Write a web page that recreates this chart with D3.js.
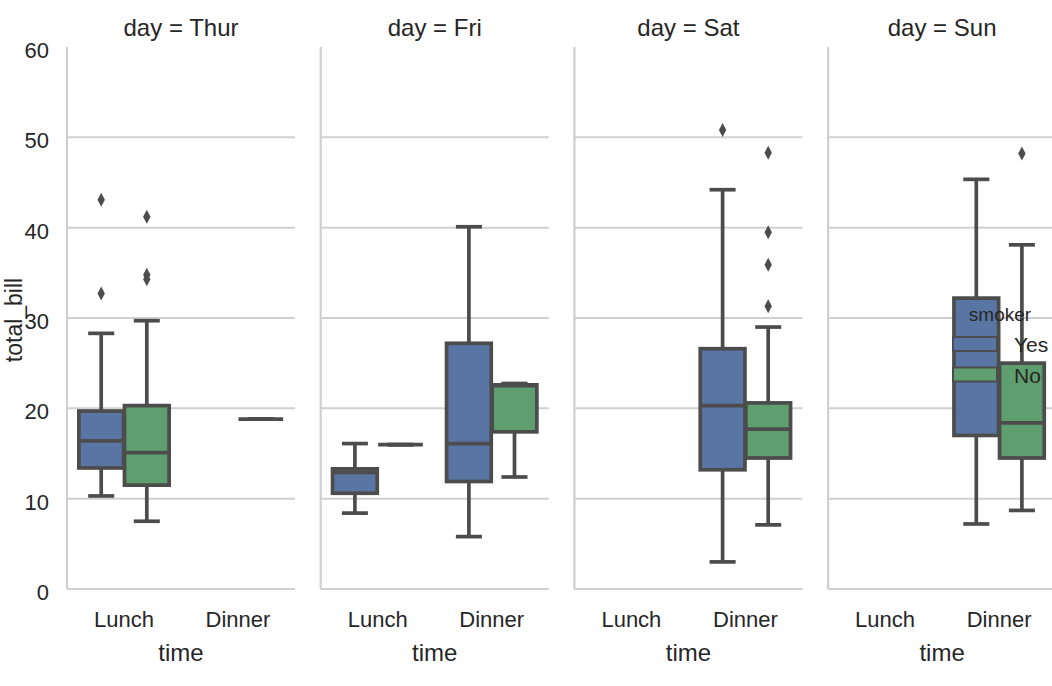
<!DOCTYPE html>
<html>
<head>
<meta charset="utf-8">
<script src="https://cdn.jsdelivr.net/npm/d3@7"></script>
<style>
  html, body { margin: 0; padding: 0; background: #ffffff; }
  svg { display: block; }
  text { font-family: "Liberation Sans", Arial, Helvetica, sans-serif; fill: #262626; }
</style>
</head>
<body>
<svg id="chart" width="1052" height="686"></svg>
<script>
// ---------------- data ----------------
const days = ["Thur", "Fri", "Sat", "Sun"];
const times = ["Lunch", "Dinner"];
const smokers = ["Yes", "No"];
const yTicks = [0, 10, 20, 30, 40, 50, 60];

// day, time, smoker, whisker low, Q1, median, Q3, whisker high
const boxStats = [
  ["Thur", "Lunch",  "Yes", 10.3, 13.4, 16.4, 19.7, 28.3],
  ["Thur", "Lunch",  "No",   7.5, 11.5, 15.1, 20.3, 29.7],
  ["Thur", "Dinner", "No",  18.8, 18.8, 18.8, 18.8, 18.8],
  ["Fri",  "Lunch",  "Yes",  8.4, 10.6, 12.9, 13.3, 16.1],
  ["Fri",  "Lunch",  "No",  15.98, 15.98, 15.98, 15.98, 15.98],
  ["Fri",  "Dinner", "Yes",  5.8, 11.9, 16.1, 27.2, 40.1],
  ["Fri",  "Dinner", "No",  12.4, 17.4, 22.5, 22.6, 22.75],
  ["Sat",  "Dinner", "Yes",  3.0, 13.2, 20.3, 26.6, 44.2],
  ["Sat",  "Dinner", "No",   7.1, 14.5, 17.7, 20.6, 29.0],
  ["Sun",  "Dinner", "Yes",  7.2, 17.0, 23.6, 32.2, 45.35],
  ["Sun",  "Dinner", "No",   8.7, 14.5, 18.4, 25.0, 38.1]
];

// day, time, smoker, outlier values
const fliers = [
  ["Thur", "Lunch",  "Yes", [43.1, 32.7]],
  ["Thur", "Lunch",  "No",  [41.2, 34.8, 34.3]],
  ["Sat",  "Dinner", "Yes", [50.8]],
  ["Sat",  "Dinner", "No",  [48.3, 39.5, 35.9, 31.3]],
  ["Sun",  "Dinner", "No",  [48.2]]
];

const hueColors = ["#5875a4", "#5f9e6e"];

// ---------------- layout ----------------
const svg = d3.select("#chart");
const lineColor = "#4c4c4c";
const gridColor = "#d0d0d0";
const panelW = 228;
const panelStep = 253.7;
const firstLeft = 67;
const plotTop = 47, plotBottom = 589;

const y = d3.scaleLinear().domain([0, 60]).range([plotBottom, plotTop]);
const hueColor = d3.scaleOrdinal().domain(smokers).range(hueColors);

days.forEach((day, di) => {
  const left = firstLeft + di * panelStep;
  const g = svg.append("g").attr("transform", `translate(${left},0)`);
  const x = d3.scaleBand().domain(times).range([0, panelW]);
  const bw = x.bandwidth();
  const hueW = bw * 0.8 / smokers.length;
  const boxW = hueW * 0.98;

  // grid
  g.selectAll("line.grid").data(yTicks.filter(t => t > 0 && t < 60)).enter()
    .append("line").attr("class", "grid")
    .attr("x1", 0).attr("x2", panelW)
    .attr("y1", d => y(d)).attr("y2", d => y(d))
    .attr("stroke", gridColor).attr("stroke-width", 2);

  // spines
  g.append("line").attr("x1", 0).attr("x2", 0).attr("y1", y(60)).attr("y2", y(0))
    .attr("stroke", gridColor).attr("stroke-width", 2.2);
  g.append("line").attr("x1", 0).attr("x2", panelW).attr("y1", y(0)).attr("y2", y(0))
    .attr("stroke", gridColor).attr("stroke-width", 2.2);

  // y tick labels only on first panel
  if (di === 0) {
    g.selectAll("text.ytick").data(yTicks).enter().append("text")
      .attr("class", "ytick")
      .attr("x", -18).attr("y", d => y(d) + 11)
      .attr("text-anchor", "end").attr("font-size", 22)
      .text(d => d);
    svg.append("text")
      .attr("transform", `translate(22,${(plotTop + plotBottom) / 2 + 2}) rotate(-90)`)
      .attr("text-anchor", "middle").attr("font-size", 23)
      .text("total_bill");
  }

  // x tick labels
  g.selectAll("text.xtick").data(times).enter().append("text")
    .attr("class", "xtick")
    .attr("x", d => x(d) + bw / 2).attr("y", 627)
    .attr("text-anchor", "middle").attr("font-size", 22)
    .text(d => d);

  // x axis label
  g.append("text").attr("x", panelW / 2).attr("y", 661)
    .attr("text-anchor", "middle").attr("font-size", 24).text("time");

  // title
  g.append("text").attr("x", panelW / 2).attr("y", 36)
    .attr("text-anchor", "middle").attr("font-size", 24).text("day = " + day);

  // boxes
  const rows = boxStats.filter(r => r[0] === day);
  rows.sort((a, b) => times.indexOf(a[1]) - times.indexOf(b[1]) || smokers.indexOf(a[2]) - smokers.indexOf(b[2]));
  rows.forEach(r => {
    const [, time, smoker, wlo, q1, med, q3, whi] = r;
    const hi = smokers.indexOf(smoker);
    const cx = x(time) + bw / 2 + (hi - (smokers.length - 1) / 2) * hueW;
    const bg = g.append("g");
    // whiskers
    bg.append("line").attr("x1", cx).attr("x2", cx).attr("y1", y(q3)).attr("y2", y(whi))
      .attr("stroke", lineColor).attr("stroke-width", 3.7);
    bg.append("line").attr("x1", cx).attr("x2", cx).attr("y1", y(q1)).attr("y2", y(wlo))
      .attr("stroke", lineColor).attr("stroke-width", 3.7);
    // caps
    [wlo, whi].forEach(v => {
      bg.append("line").attr("x1", cx - boxW / 4).attr("x2", cx + boxW / 4)
        .attr("y1", y(v)).attr("y2", y(v))
        .attr("stroke", lineColor).attr("stroke-width", 3.7).attr("stroke-linecap", "square");
    });
    // box
    bg.append("rect").attr("x", cx - boxW / 2).attr("width", boxW)
      .attr("y", y(q3)).attr("height", Math.max(0, y(q1) - y(q3)))
      .attr("fill", hueColor(smoker)).attr("stroke", lineColor).attr("stroke-width", 3.7)
      .attr("stroke-linejoin", "miter");
    // median
    bg.append("line").attr("x1", cx - boxW / 2).attr("x2", cx + boxW / 2)
      .attr("y1", y(med)).attr("y2", y(med))
      .attr("stroke", lineColor).attr("stroke-width", 3.7);
    // fliers
    const f = fliers.find(fr => fr[0] === day && fr[1] === time && fr[2] === smoker);
    if (f) {
      bg.selectAll("path.flier").data(f[3]).enter().append("path")
        .attr("class", "flier")
        .attr("d", d => `M${cx},${y(d) - 7}L${cx + 3.7},${y(d)}L${cx},${y(d) + 7}L${cx - 3.7},${y(d)}Z`)
        .attr("fill", lineColor);
    }
  });
});

// legend (inside last panel)
const lg = svg.append("g");
lg.append("text").attr("x", 1000).attr("y", 321).attr("text-anchor", "middle")
  .attr("font-size", 19).text("smoker");
smokers.forEach((s, i) => {
  const yy = 337 + i * 30.5;
  lg.append("rect").attr("x", 953).attr("y", yy).attr("width", 44).attr("height", 14)
    .attr("fill", hueColor(s)).attr("stroke", lineColor).attr("stroke-width", 2);
  lg.append("text").attr("x", 1014).attr("y", yy + 15).attr("font-size", 21).text(s);
});
</script>
</body>
</html>
